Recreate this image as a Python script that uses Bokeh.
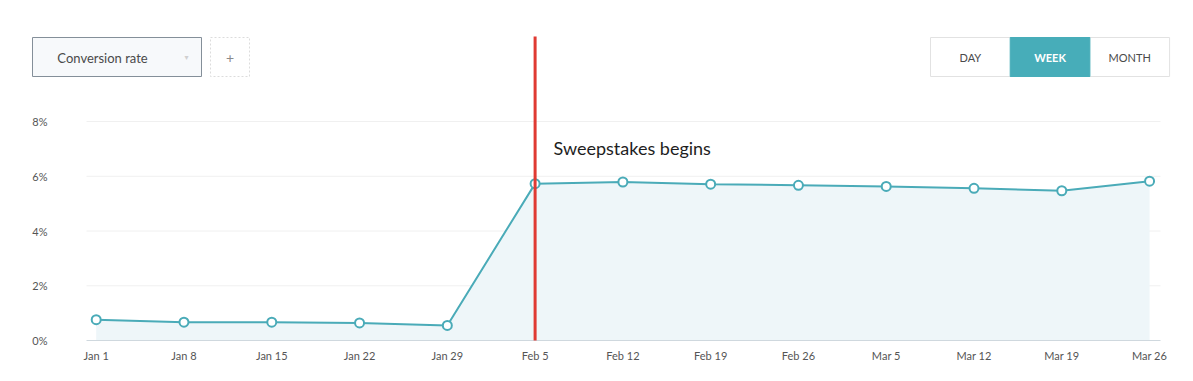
from bokeh.plotting import figure
from bokeh.models import Range1d, FixedTicker
from bokeh.core.properties import value
from bokeh.embed import file_html
from bokeh.resources import INLINE

# ---- data ----
dates = ["Jan 1", "Jan 8", "Jan 15", "Jan 22", "Jan 29", "Feb 5", "Feb 12",
         "Feb 19", "Feb 26", "Mar 5", "Mar 12", "Mar 19", "Mar 26"]
conversion = [0.76, 0.67, 0.67, 0.64, 0.55, 5.73, 5.79, 5.71, 5.67, 5.63, 5.56, 5.47, 5.82]
y_ticks = [0, 2, 4, 6, 8]
y_labels = ["0%", "2%", "4%", "6%", "8%"]
event_date = "Feb 5"
event_label = "Sweepstakes begins"
metric_name = "Conversion rate"
periods = ["DAY", "WEEK", "MONTH"]
active_period = "WEEK"

xs = list(range(len(dates)))

# pixel -> data helpers (for decorations only)
X0, DX = 95.7, 87.78
Y0, DY = 340.0, 27.375
def px(xp):
    return (xp - X0) / DX
def py(yp):
    return (Y0 - yp) / DY

TEAL = "#4aabb8"
FONT = "Lato"

FL, FR, FT, FB = 20, 1178, 0, 347
W, H = 1185, 373
p = figure(width=W, height=H, output_backend="svg", toolbar_location=None,
           x_range=Range1d(px(FL), px(FR)), y_range=Range1d(py(FB), py(FT)),
           y_axis_location=None, min_border_left=FL, min_border_right=W - FR,
           min_border_top=FT, min_border_bottom=H - FB, tools="")
p.outline_line_color = None
p.xgrid.visible = False
p.ygrid.visible = False
p.background_fill_color = "white"
p.border_fill_color = "white"

ax = p.xaxis[0]
ax.ticker = FixedTicker(ticks=xs)
ax.major_label_overrides = {i: d for i, d in enumerate(dates)}
ax.axis_line_color = None
ax.major_tick_line_color = None
ax.minor_tick_line_color = None
ax.major_tick_out = 0
ax.major_tick_in = 0
ax.major_label_standoff = 1
ax.major_label_text_font = FONT
ax.major_label_text_font_size = "11px"
ax.major_label_text_color = "#555555"

# grid lines
gx0, gx1 = px(86), px(1160)
p.segment(x0=[gx0] * len(y_ticks[1:]), x1=[gx1] * len(y_ticks[1:]),
          y0=y_ticks[1:], y1=y_ticks[1:], line_color="#f0f0f0", line_width=1)

# y tick labels
p.text(x=[px(47)] * len(y_ticks), y=y_ticks, text=y_labels, text_align="right",
       text_baseline="middle", text_font=value(FONT), text_font_size="11px",
       text_color="#555555")

# area + line + markers
p.varea(x=xs, y1=[0] * len(xs), y2=conversion, fill_color="#eef6f9")
p.segment(x0=[gx0], x1=[gx1], y0=[0], y1=[0], line_color="#cfd8de", line_width=1)
p.line(xs, conversion, line_color=TEAL, line_width=2)
p.scatter(xs, conversion, size=9, fill_color="white", line_color=TEAL, line_width=2)

# event line and label
ei = dates.index(event_date)
p.segment(x0=[ei], x1=[ei], y0=[0], y1=[py(36)], line_color="#e03a33", line_width=3)
p.text(x=[ei + px(553) - px(534.6)], y=[py(147)], text=[event_label],
       text_baseline="middle", text_font=value(FONT), text_font_size="18px",
       text_color="#1e1e1e")

# ---- UI controls (decoration) ----
# dropdown
p.quad(left=[px(32)], right=[px(201)], top=[py(37)], bottom=[py(76)],
       fill_color="#f7f9fb", line_color="#848f99", line_width=1)
p.text(x=[px(102)], y=[py(57)], text=[metric_name], text_align="center",
       text_baseline="middle", text_font=value(FONT), text_font_size="13px",
       text_color="#4a4a4a")
p.text(x=[px(186)], y=[py(57)], text=["▾"], text_align="center",
       text_baseline="middle", text_font=value("DejaVu Sans"), text_font_size="8px",
       text_color="#d0d0d0")
# plus box
p.quad(left=[px(210)], right=[px(249)], top=[py(37)], bottom=[py(76)],
       fill_color="white", line_color="#dcdcdc", line_width=1, line_dash="2 2")
p.text(x=[px(229.5)], y=[py(57)], text=["+"], text_align="center",
       text_baseline="middle", text_font=value(FONT), text_font_size="14px",
       text_color="#8a8a8a")
# period buttons
bl, bw = 930, 79.7
p.quad(left=[px(bl)], right=[px(bl + 3 * bw)], top=[py(37)], bottom=[py(76)],
       fill_color="white", line_color="#e2e2e2", line_width=1)
for k, name in enumerate(periods):
    l, r = bl + k * bw, bl + (k + 1) * bw
    act = name == active_period
    if act:
        p.quad(left=[px(l)], right=[px(r)], top=[py(37)], bottom=[py(76)],
               fill_color="#47adb9", line_color="#47adb9", line_width=1)
    p.text(x=[px((l + r) / 2)], y=[py(57)], text=[name], text_align="center",
           text_baseline="middle", text_font=value(FONT), text_font_size="11px",
           text_font_style="bold" if act else "normal",
           text_color="white" if act else "#4a4a4a")

open("out.html", "w").write(file_html(p, INLINE))
